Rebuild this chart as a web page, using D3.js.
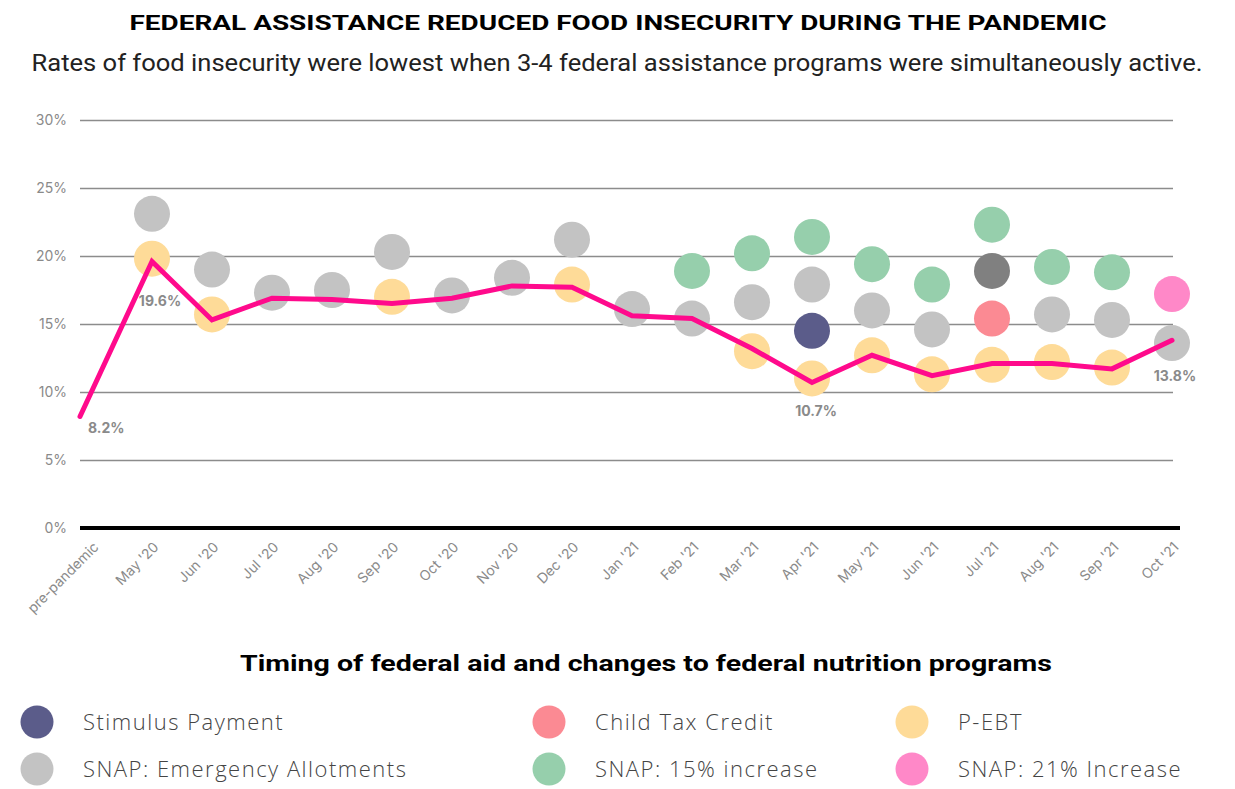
<!DOCTYPE html>
<html>
<head>
<meta charset="utf-8">
<script src="https://cdn.jsdelivr.net/npm/d3@7"></script>
<style>
  body { margin: 0; background: #fff; }
  svg { display: block; font-family: "Open Sans", sans-serif; }
</style>
</head>
<body>
<div id="chart"></div>
<script>
///////////////////// Data ////////////////////////
var months = ["pre-pandemic", "May '20", "Jun '20", "Jul '20", "Aug '20", "Sep '20", "Oct '20",
              "Nov '20", "Dec '20", "Jan '21", "Feb '21", "Mar '21", "Apr '21", "May '21",
              "Jun '21", "Jul '21", "Aug '21", "Sep '21", "Oct '21"];

// food insecurity rate (%)
var rate = [8.2, 19.6, 15.3, 16.9, 16.8, 16.5, 16.9, 17.8, 17.7, 15.6, 15.4, 13.2, 10.7,
            12.7, 11.2, 12.1, 12.1, 11.7, 13.8];

// program dots (null = program not active that month)
var stimulus   = [null, null, null, null, null, null, null, null, null, null, null, null, 14.5,
                  null, null, null, null, null, null];
var snapEA     = [null, 23.1, 19.0, 17.3, 17.5, 20.3, 17.1, 18.4, 21.2, 16.1, 15.4, 16.6, 17.9,
                  16.0, 14.6, null, 15.7, 15.3, 13.6];
var snapEAdark = [null, null, null, null, null, null, null, null, null, null, null, null, null,
                  null, null, 18.9, null, null, null];
var childTax   = [null, null, null, null, null, null, null, null, null, null, null, null, null,
                  null, null, 15.4, null, null, null];
var pebt       = [null, 19.8, 15.7, null, null, 17.0, null, null, 17.9, null, null, 13.0, 11.0,
                  12.7, 11.3, 12.0, 12.2, 11.8, null];
var snap15     = [null, null, null, null, null, null, null, null, null, null, 18.9, 20.2, 21.4,
                  19.4, 17.9, 22.3, 19.2, 18.8, null];
var snap21     = [null, null, null, null, null, null, null, null, null, null, null, null, null,
                  null, null, null, null, null, 17.2];

var yTicks = [0, 5, 10, 15, 20, 25, 30];
var labelled = ["pre-pandemic", "May '20", "Apr '21", "Oct '21"];

var series = [
  {name: "Stimulus Payment", values: stimulus, color: "#5b5c8a"},
  {name: "SNAP: Emergency Allotments", values: snapEA, color: "#c3c3c3"},
  {name: null, values: snapEAdark, color: "#808080"},
  {name: "Child Tax Credit", values: childTax, color: "#fb8a93"},
  {name: "SNAP: 15% increase", values: snap15, color: "#96cfac"},
  {name: "P-EBT", values: pebt, color: "#fedb98"},
  {name: "SNAP: 21% Increase", values: snap21, color: "#ff88c8"}
];
//////////////////////////////////////////////////

var width = 1235, height = 789;
var plotLeft = 80, plotRight = 1173, plotTop = 120, plotBottom = 528;

var svg = d3.select("#chart").append("svg")
    .attr("width", width)
    .attr("height", height);

// titles
svg.append("text")
    .attr("x", 618).attr("y", 30)
    .attr("text-anchor", "middle")
    .attr("textLength", 977).attr("lengthAdjust", "spacingAndGlyphs")
    .style("font-family", "Roboto, sans-serif")
    .style("font-weight", "bold").style("font-size", "21px")
    .text("FEDERAL ASSISTANCE REDUCED FOOD INSECURITY DURING THE PANDEMIC");

svg.append("text")
    .attr("x", 617).attr("y", 71)
    .attr("text-anchor", "middle")
    .attr("textLength", 1171).attr("lengthAdjust", "spacingAndGlyphs")
    .style("font-family", "Roboto, sans-serif")
    .style("font-size", "23px").style("fill", "#222")
    .text("Rates of food insecurity were lowest when 3-4 federal assistance programs were simultaneously active.");

// scales
var x = d3.scalePoint().domain(months).range([92, 1172]);
var y = d3.scaleLinear().domain([0, 30]).range([plotBottom, plotTop]);

// y axis + gridlines
var yAxis = svg.append("g")
    .attr("transform", "translate(" + plotLeft + ",0)")
    .call(d3.axisLeft(y).tickValues(yTicks).tickFormat(function (d) { return d + "%"; })
        .tickSize(-(plotRight - plotLeft)).tickPadding(13));
yAxis.select(".domain").remove();
yAxis.selectAll(".tick line").attr("stroke", "#8c8c8c").attr("stroke-width", 1.3)
    .attr("display", function (d) { return d === 0 ? "none" : null; });
yAxis.selectAll(".tick text")
    .style("font-size", "14px").style("fill", "#8a8a8a")
    .style("font-family", "Inter, sans-serif");

// x axis labels
var xAxis = svg.append("g")
    .attr("transform", "translate(0," + plotBottom + ")")
    .call(d3.axisBottom(x).tickSize(0).tickPadding(0));
xAxis.select(".domain").remove();
xAxis.selectAll(".tick text")
    .attr("text-anchor", "end")
    .attr("transform", "translate(7,20) rotate(-45)")
    .attr("dy", 0)
    .style("font-size", "14px").style("fill", "#8a8a8a")
    .style("font-family", "Inter, sans-serif");

// zero line
svg.append("line")
    .attr("x1", plotLeft).attr("x2", 1180)
    .attr("y1", y(0)).attr("y2", y(0))
    .attr("stroke", "#000").attr("stroke-width", 4);

// program dots
series.forEach(function (s) {
  var pts = months.map(function (m, i) { return {m: m, v: s.values[i]}; })
      .filter(function (d) { return d.v != null; });
  svg.append("g").selectAll("circle")
      .data(pts)
      .enter().append("circle")
      .attr("cx", function (d) { return x(d.m); })
      .attr("cy", function (d) { return y(d.v); })
      .attr("r", 18)
      .style("fill", s.color);
});

// rate line (first point sits on the plot's left edge)
var line = d3.line()
    .x(function (d, i) { return i === 0 ? plotLeft : x(d.m); })
    .y(function (d) { return y(d.v); });
var linePts = months.map(function (m, i) { return {m: m, v: rate[i]}; });
svg.append("path")
    .datum(linePts)
    .attr("d", line)
    .attr("fill", "none")
    .attr("stroke", "#ff0a8c")
    .attr("stroke-width", 5)
    .attr("stroke-linejoin", "miter")
    .attr("stroke-linecap", "round");

// value labels
var labelPos = {
  "pre-pandemic": {dx: 8, dy: 17, anchor: "start"},
  "May '20": {dx: 8, dy: 45, anchor: "middle"},
  "Apr '21": {dx: 4, dy: 34, anchor: "middle"},
  "Oct '21": {dx: 3, dy: 41, anchor: "middle"}
};
svg.append("g").selectAll("text")
    .data(labelled)
    .enter().append("text")
    .attr("x", function (m, i) { return (i === 0 ? plotLeft : x(m)) + labelPos[m].dx; })
    .attr("y", function (m) { return y(rate[months.indexOf(m)]) + labelPos[m].dy; })
    .attr("text-anchor", function (m) { return labelPos[m].anchor; })
    .style("font-family", "Inter, sans-serif")
    .style("font-weight", "bold").style("font-size", "14px").style("fill", "#8a8a8a")
    .text(function (m) { return rate[months.indexOf(m)].toFixed(1) + "%"; });

// legend
svg.append("text")
    .attr("x", 646).attr("y", 671)
    .attr("text-anchor", "middle")
    .attr("textLength", 812).attr("lengthAdjust", "spacingAndGlyphs")
    .style("font-family", "Roboto, sans-serif")
    .style("font-weight", "bold").style("font-size", "22px").style("fill", "#000")
    .text("Timing of federal aid and changes to federal nutrition programs");

var legendItems = series.filter(function (s) { return s.name; });
var legendOrder = ["Stimulus Payment", "Child Tax Credit", "P-EBT",
                   "SNAP: Emergency Allotments", "SNAP: 15% increase", "SNAP: 21% Increase"];
var colX = [37, 549, 912];
var rowY = [722, 769];
var lg = svg.append("g").selectAll("g")
    .data(legendOrder.map(function (n) {
      return legendItems.filter(function (s) { return s.name === n; })[0];
    }))
    .enter().append("g")
    .attr("transform", function (d, i) {
      return "translate(" + colX[i % 3] + "," + rowY[Math.floor(i / 3)] + ")";
    });
lg.append("circle").attr("r", 16.5).style("fill", function (d) { return d.color; });
lg.append("text")
    .attr("x", 46).attr("dy", "0.35em")
    .style("font-family", "Open Sans, sans-serif")
    .style("font-weight", 300)
    .style("letter-spacing", "1.5px")
    .style("font-size", "22px").style("fill", "#444")
    .text(function (d) { return d.name; });
</script>
</body>
</html>
